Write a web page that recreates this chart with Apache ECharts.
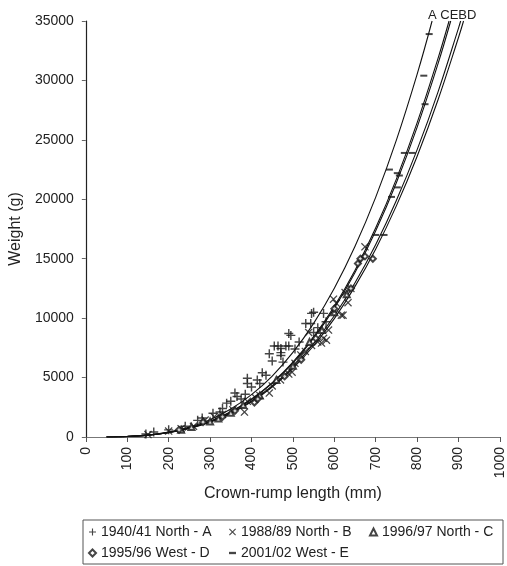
<!DOCTYPE html>
<html>
<head>
<meta charset="utf-8">
<script src="https://cdn.jsdelivr.net/npm/echarts@6/dist/echarts.min.js"></script>
<style>html,body{margin:0;padding:0;background:#fff;}#c{width:507px;height:566px;}</style>
</head>
<body>
<div id="c"></div>
<script>
// Tick labels
var xTicks = [0,100,200,300,400,500,600,700,800,900,1000];
var yTicks = [0,5000,10000,15000,20000,25000,30000,35000];

// Series names
var names = ['1940/41 North - A','1988/89 North - B','1996/97 North - C','1995/96 West - D','2001/02 West - E'];

// Observed points [length mm, weight g]
var ptsA = [[145,250],[164,420],[200,600],[240,900],[270,1400],[281,1600],[307,2000],[324,2100],[330,2400],[340,2850],[350,3000],[360,3700],[365,3400],[375,3200],[385,3600],[390,4500],[390,4950],[400,4200],[414,4800],[420,4500],[426,5400],[435,5200],[443,7000],[450,6400],[455,7650],[464,7650],[471,7450],[471,7100],[471,6850],[476,6300],[483,7650],[490,7650],[490,8700],[495,8550],[505,7400],[515,8000],[531,9550],[543,9550],[545,10400],[550,8800],[550,10500],[560,9200],[574,10400],[580,9700]];
var ptsB = [[150,200],[200,500],[230,700],[260,900],[288,1430],[310,1700],[330,1900],[355,2300],[383,2100],[390,3000],[410,3300],[420,3500],[443,3700],[450,4300],[470,4800],[490,5300],[498,5450],[505,6200],[519,6900],[530,7200],[538,8800],[545,7700],[560,8000],[569,7900],[574,8300],[581,8150],[586,9000],[598,11600],[605,11250],[617,10250],[621,10250],[626,12150],[633,11300],[640,12500],[674,16000]];
var ptsC = [[230,600],[255,850],[300,1300],[320,1550],[350,2050],[380,2700],[420,3500],[460,4800],[500,6000],[540,8000],[570,9000],[600,10500],[630,12000]];
var ptsD = [[225,600],[283,1250],[330,1700],[360,2200],[407,2900],[415,3200],[480,5100],[520,6500],[555,8300],[600,10800],[640,12500],[657,14600],[663,15000],[674,15200],[693,15000]];
var ptsE = [[700,17000],[720,17000],[738,20200],[752,21000],[733,22500],[752,22200],[757,22000],[769,23900],[788,23900],[816,30400],[819,28000],[829,33900]];

// Fitted curves [length mm, weight g]
var curveA = [[50,6],[100,48],[150,170],[200,415],[250,829],[300,1460],[350,2354],[400,3563],[450,5131],[500,7113],[550,9559],[600,12516],[650,16044],[700,20185],[750,24997],[800,30531],[836,35000]];
var curveC = [[50,6],[100,47],[150,160],[200,385],[250,761],[300,1328],[350,2125],[400,3193],[450,4572],[500,6307],[550,8435],[600,10997],[650,14038],[700,17598],[750,21721],[800,26446],[850,31812],[877,35000]];
var curveE = [[50,5],[100,46],[150,158],[200,380],[250,750],[300,1309],[350,2095],[400,3148],[450,4508],[500,6219],[550,8317],[600,10843],[650,13841],[700,17352],[750,21417],[800,26076],[850,31367],[881,35000]];
var curveB = [[50,6],[100,47],[150,159],[200,378],[250,738],[300,1275],[350,2024],[400,3023],[450,4302],[500,5904],[550,7858],[600,10199],[650,12971],[700,16198],[750,19925],[800,24178],[850,28998],[900,34426],[905,35000]];
var curveD = [[50,6],[100,46],[150,155],[200,369],[250,721],[300,1246],[350,1977],[400,2953],[450,4203],[500,5768],[550,7677],[600,9964],[650,12673],[700,15825],[750,19467],[800,23622],[850,28331],[900,33634],[912,35000]];

var curveLabel = 'A CEBD';

var FONT = 'Liberation Sans, Arial, Helvetica, sans-serif';
var TXT = '#222';
var MARK = '#161616';
var PLUS = 'path://M0,4.2H10V5.8H0Z M4.2,0H5.8V10H4.2Z';
var CROSS = 'path://M1.1,0L5,3.9L8.9,0L10,1.1L6.1,5L10,8.9L8.9,10L5,6.1L1.1,10L0,8.9L3.9,5L0,1.1Z';
var DASH = 'path://M0,0H8V2H0Z';

function lineSeries(name, data) {
  return {
    name: name, type: 'line', data: data, showSymbol: false, smooth: 0.4,
    lineStyle: {color: '#111', width: 1.1}, z: 2, silent: true, clip: true
  };
}
function scatterSeries(name, data, symbol, size, style) {
  return {
    name: name, type: 'scatter', data: data, symbol: symbol, symbolSize: size,
    itemStyle: style || {color: MARK, borderWidth: 0}, z: 3
  };
}

var chart = echarts.init(document.getElementById('c'), null, {renderer: 'canvas'});
chart.setOption({
  animation: false,
  backgroundColor: '#fff',
  grid: {left: 84, right: 3, top: 21, bottom: 129, containLabel: false},
  xAxis: {
    type: 'value', min: xTicks[0], max: xTicks[xTicks.length-1], interval: xTicks[1]-xTicks[0],
    name: 'Crown-rump length (mm)', nameLocation: 'middle', nameGap: 44,
    nameTextStyle: {fontFamily: FONT, fontSize: 16, color: TXT},
    axisLine: {lineStyle: {color: '#777', width: 1}},
    axisTick: {show: true, length: 5, lineStyle: {color: '#555'}},
    axisLabel: {rotate: 90, fontFamily: FONT, fontSize: 14, color: TXT, margin: 10, showMaxLabel: true,
      formatter: function (v) { return String(v); }},
    splitLine: {show: false}
  },
  yAxis: {
    type: 'value', min: yTicks[0], max: yTicks[yTicks.length-1], interval: yTicks[1]-yTicks[0],
    name: 'Weight (g)', nameLocation: 'middle', nameGap: 58,
    nameTextStyle: {fontFamily: FONT, fontSize: 16, color: TXT},
    axisLine: {show: true, lineStyle: {color: '#222', width: 1.2}},
    axisTick: {show: true, length: 4, lineStyle: {color: '#666'}},
    axisLabel: {fontFamily: FONT, fontSize: 14, color: TXT, margin: 12,
      formatter: function (v) { return String(v); }},
    splitLine: {show: false}
  },
  legend: {
    left: 83, top: 520, width: 420, padding: [5, 5, 4, 5],
    itemWidth: 7, itemHeight: 7, itemGap: 7,
    borderColor: '#555', borderWidth: 1,
    textStyle: {fontFamily: FONT, fontSize: 14, color: TXT, width: 121, lineHeight: 14},
    data: [
      {name: names[0]},
      {name: names[1]},
      {name: names[2], textStyle: {width: 116}},
      {name: names[3]},
      {name: names[4], icon: 'path://M0,0H6V2H0Z'}
    ]
  },
  graphic: [{
    type: 'text', left: 428, top: 9,
    style: {text: curveLabel, font: '13px ' + FONT, fill: TXT}
  }],
  series: [
    lineSeries('curveA', curveA),
    lineSeries('curveC', curveC),
    lineSeries('curveE', curveE),
    lineSeries('curveB', curveB),
    lineSeries('curveD', curveD),
    scatterSeries(names[0], ptsA, PLUS, 9),
    scatterSeries(names[1], ptsB, CROSS, 8),
    scatterSeries(names[2], ptsC, 'emptyTriangle', 6, {color: MARK, borderColor: MARK, borderWidth: 0.8}),
    scatterSeries(names[3], ptsD, 'emptyDiamond', 6, {color: MARK, borderColor: MARK, borderWidth: 0.8}),
    scatterSeries(names[4], ptsE, DASH, [7, 2])
  ]
});
</script>
</body>
</html>
